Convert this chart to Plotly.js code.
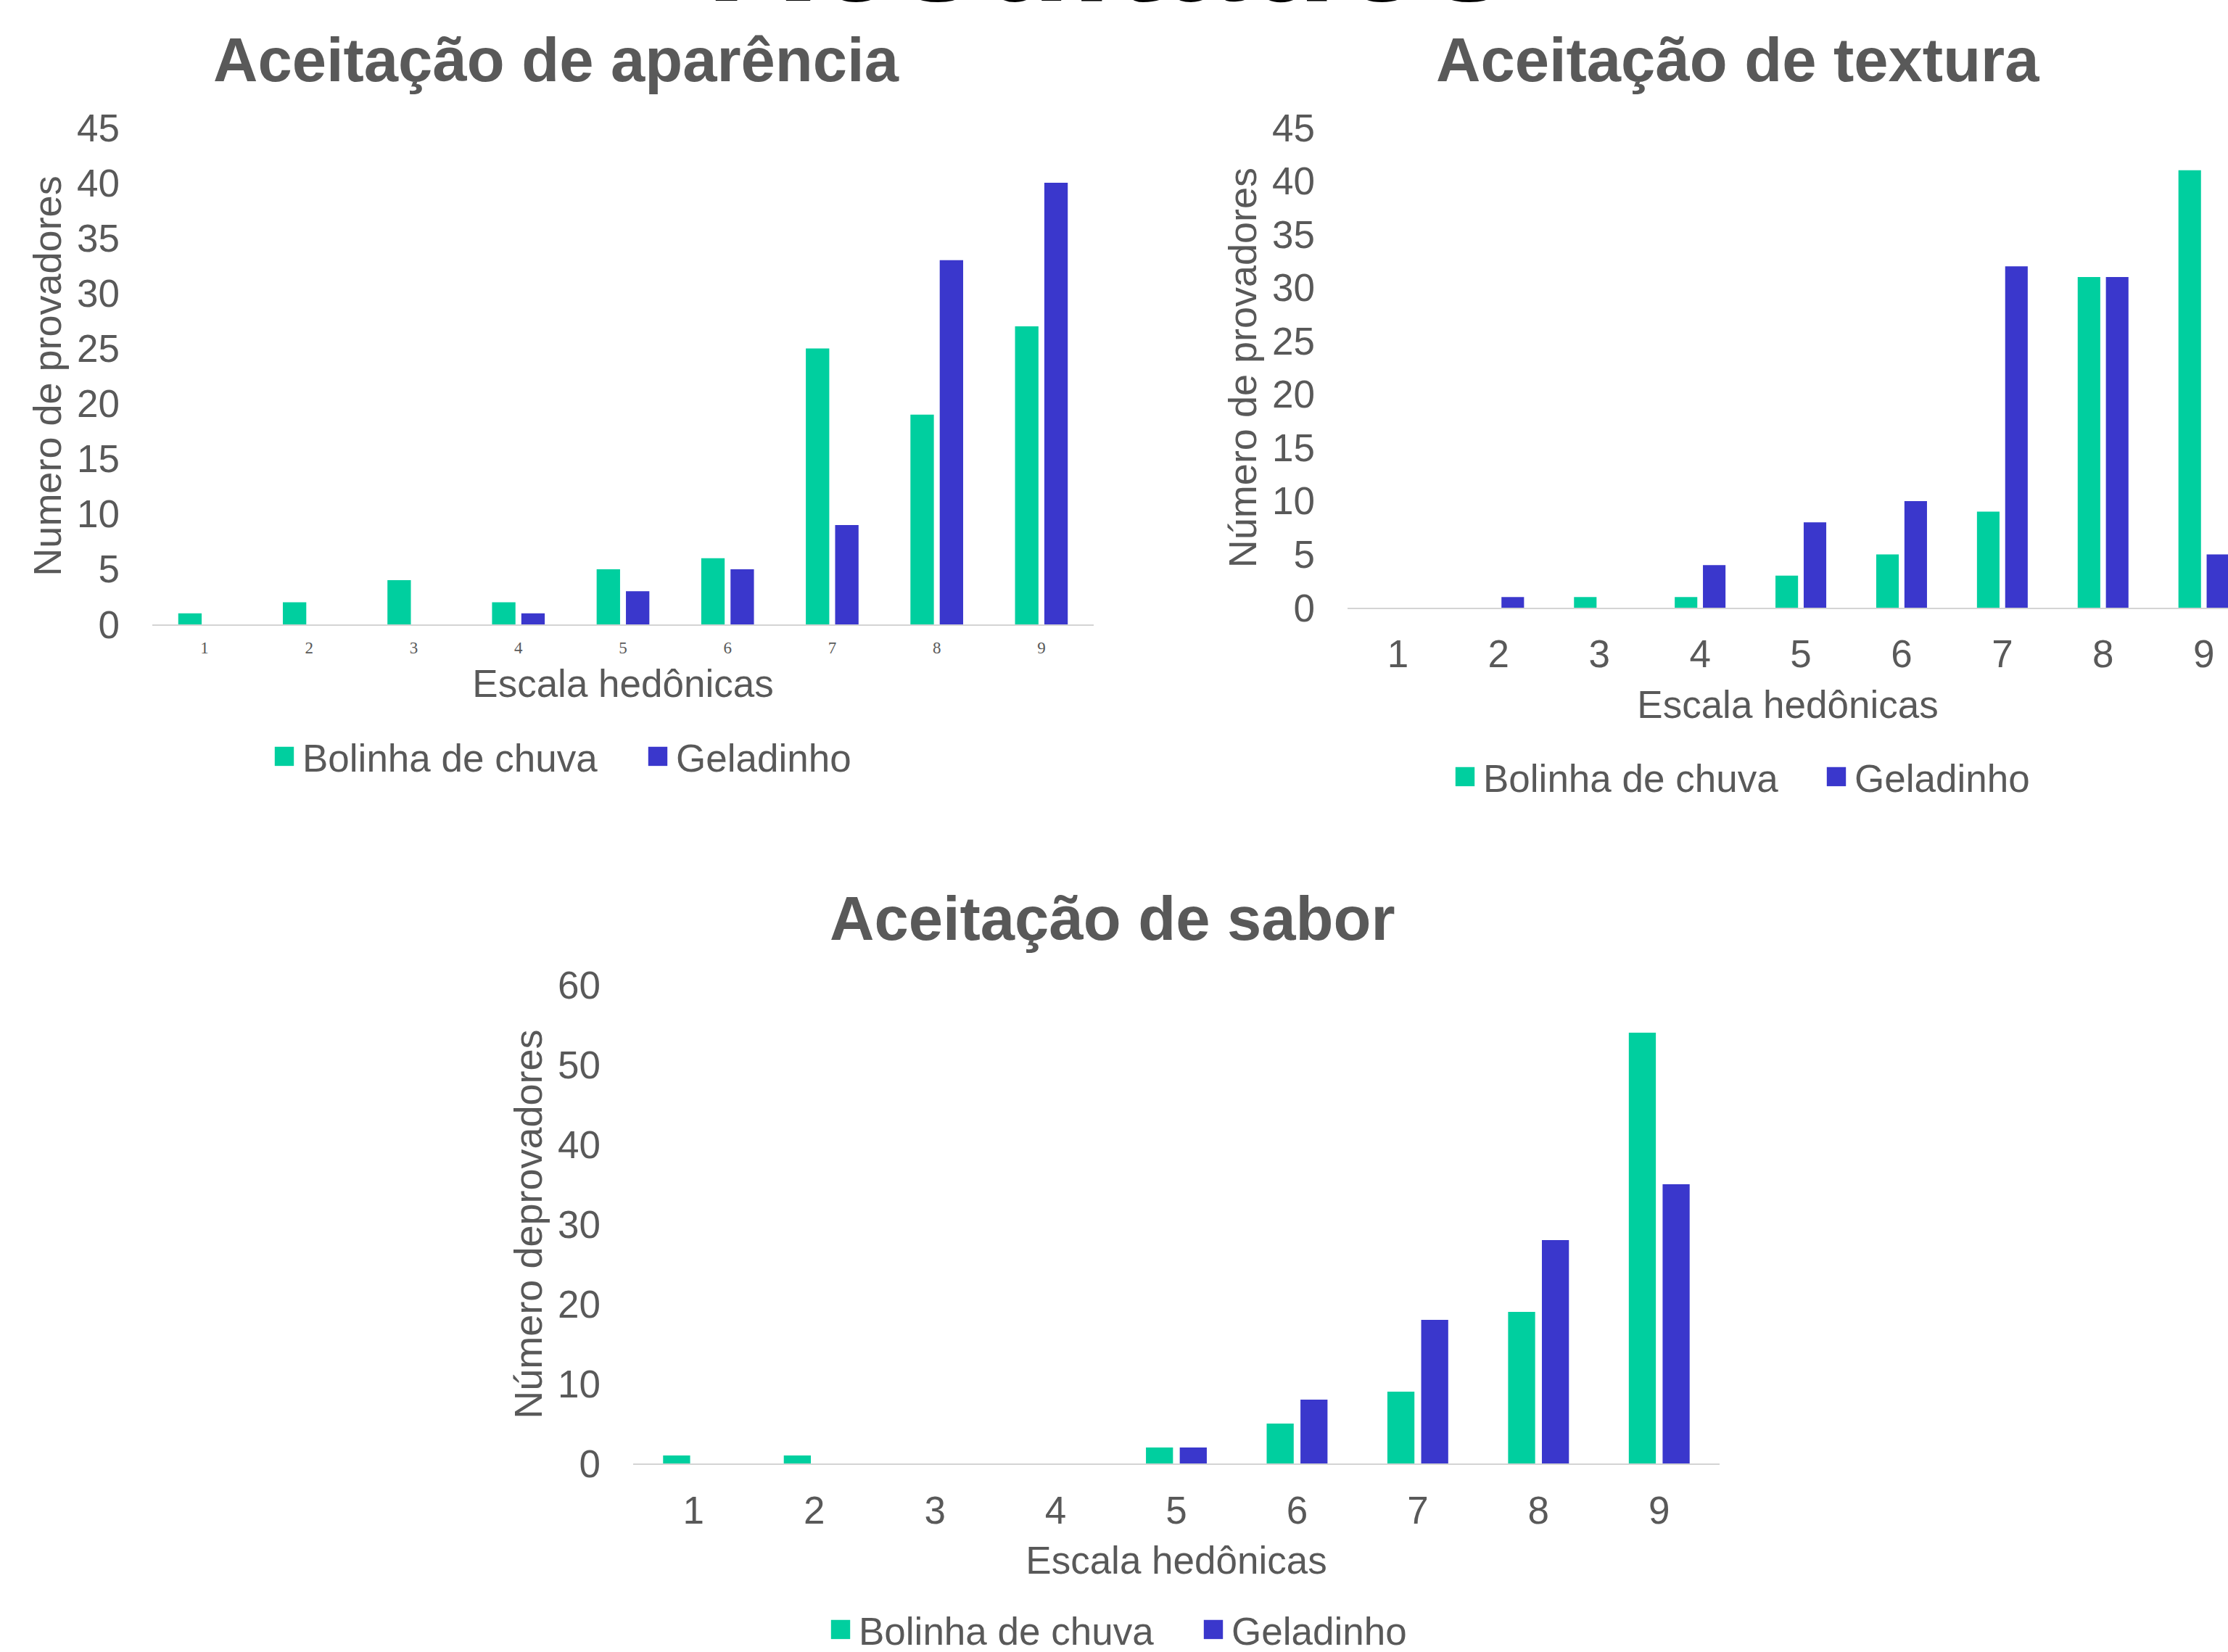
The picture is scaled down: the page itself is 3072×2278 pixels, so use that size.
<!DOCTYPE html>
<html><head><meta charset="utf-8">
<script src="https://cdn.plot.ly/plotly-3.0.1.min.js"></script>
<style>html,body{margin:0;padding:0;background:#fff;overflow:hidden}#chart{width:3072px;height:2278px}</style>
</head><body><div id="chart"></div>
<script>
// ---- data ----
const categories = ['1','2','3','4','5','6','7','8','9'];
const seriesNames = ['Bolinha de chuva', 'Geladinho'];
const chartTitles = ['Aceitação de aparência', 'Aceitação de textura', 'Aceitação de sabor'];
const yTitles = ['Numero de provadores', 'Número de provadores', 'Número deprovadores'];
const xTitle = 'Escala hedônicas';
const pageTitle = 'Resultados';
const aparenciaBolinha   = [1, 2, 4, 2, 5, 6, 25, 19, 27];
const aparenciaGeladinho = [0, 0, 0, 1, 3, 5, 9, 33, 40];
const texturaBolinha     = [0, 0, 1, 1, 3, 5, 9, 31, 41];
const texturaGeladinho   = [0, 1, 0, 4, 8, 10, 32, 31, 5];
const saborBolinha       = [1, 1, 0, 0, 2, 5, 9, 19, 54];
const saborGeladinho     = [0, 0, 0, 0, 2, 8, 18, 28, 35];

// ---- style ----
const W = 3072, H = 2278;
const GREEN = '#00cf9f', BLUE = '#3a37cc', GRAY = '#595959';
const SANS = '"Liberation Sans", Arial, sans-serif';
const SERIF = '"Liberation Serif", "Times New Roman", serif';
const px = x => x / W;
const py = y => 1 - y / H;

function bar(name, y, color, xa, ya, legend) {
  return {type: 'bar', x: categories, y: y, name: name, marker: {color: color},
          xaxis: xa, yaxis: ya, legend: legend, hoverinfo: 'skip'};
}

const data = [
  bar(seriesNames[0], aparenciaBolinha, GREEN, 'x', 'y', 'legend'),
  bar(seriesNames[1], aparenciaGeladinho, BLUE, 'x', 'y', 'legend2'),
  bar(seriesNames[0], texturaBolinha, GREEN, 'x2', 'y2', 'legend3'),
  bar(seriesNames[1], texturaGeladinho, BLUE, 'x2', 'y2', 'legend4'),
  bar(seriesNames[0], saborBolinha, GREEN, 'x3', 'y3', 'legend5'),
  bar(seriesNames[1], saborGeladinho, BLUE, 'x3', 'y3', 'legend6')
];

function xax(domain, anchor, tickfont, standoffLbl, titleStandoff, range) {
  const a = {domain: domain, anchor: anchor, type: 'category', showline: true,
    linecolor: '#d4d4d4', linewidth: 2, ticks: '', showgrid: false, zeroline: false,
    tickfont: tickfont, ticklabelstandoff: standoffLbl, fixedrange: true,
    title: {text: xTitle, font: {family: SANS, size: 53, color: GRAY}, standoff: titleStandoff}};
  if (range) { a.range = range; a.autorange = false; }
  return a;
}
function yax(domain, anchor, range, dtick, title) {
  return {domain: domain, anchor: anchor, range: range, dtick: dtick, autorange: false,
    showline: false, ticks: '', showgrid: false, zeroline: false, fixedrange: true,
    tickfont: {family: SANS, size: 53, color: GRAY}, ticklabelstandoff: 44,
    title: {text: title, font: {family: SANS, size: 54, color: GRAY}, standoff: 4}};
}
function leg(sx, sy) {
  return {x: px(sx - 15), y: py(sy), xanchor: 'left', yanchor: 'middle', orientation: 'h',
    bgcolor: 'rgba(0,0,0,0)', font: {family: SANS, size: 53, color: GRAY}, itemclick: false, itemdoubleclick: false};
}
function ttl(text, cx, cy) {
  return {text: text, x: px(cx), y: py(cy), xref: 'paper', yref: 'paper', xanchor: 'center', yanchor: 'middle',
    showarrow: false, font: {family: SANS, size: 85, color: GRAY, weight: 'bold'}};
}

const layout = {
  width: W, height: H, margin: {l: 0, r: 0, t: 0, b: 0, autoexpand: false},
  paper_bgcolor: '#fff', plot_bgcolor: '#fff', showlegend: true,
  bargap: 0.44, bargroupgap: 0.2, barmode: 'group',
  font: {family: SANS, color: GRAY},
  xaxis:  xax([px(210), px(1508)], 'y',  {family: SERIF, size: 23, color: GRAY}, 10, 19),
  yaxis:  yax([py(861), py(176)], 'x', [0, 45], 5, yTitles[0]),
  xaxis2: xax([px(1858), 1], 'y2', {family: SANS, size: 53, color: GRAY}, 16, 23, [-0.5, 8.24]),
  yaxis2: yax([py(838), py(176)], 'x2', [0, 45], 5, yTitles[1]),
  xaxis3: xax([px(873), px(2371)], 'y3', {family: SANS, size: 53, color: GRAY}, 17, 22),
  yaxis3: yax([py(2018), py(1358)], 'x3', [0, 60], 10, yTitles[2]),
  legend:  leg(392, 1043), legend2: leg(907, 1043),
  legend3: leg(2020, 1071), legend4: leg(2532, 1071),
  legend5: leg(1159, 2247), legend6: leg(1673, 2247),
  annotations: [
    {text: pageTitle, x: px(1528), y: py(-70), xref: 'paper', yref: 'paper', xanchor: 'center', yanchor: 'middle',
     showarrow: false, font: {family: SANS, size: 206, color: '#000', weight: 'bold'}},
    ttl(chartTitles[0], 767, 83),
    ttl(chartTitles[1], 2396, 83),
    ttl(chartTitles[2], 1534, 1266)
  ]
};

Plotly.newPlot('chart', data, layout, {displayModeBar: false, responsive: false}).then(gd => {
  gd.querySelectorAll('.legendpoints path').forEach(p => {
    const t = p.getAttribute('transform') || '';
    p.setAttribute('transform', t + ' translate(-5,0) scale(2.2)');
  });
});
</script></body></html>
